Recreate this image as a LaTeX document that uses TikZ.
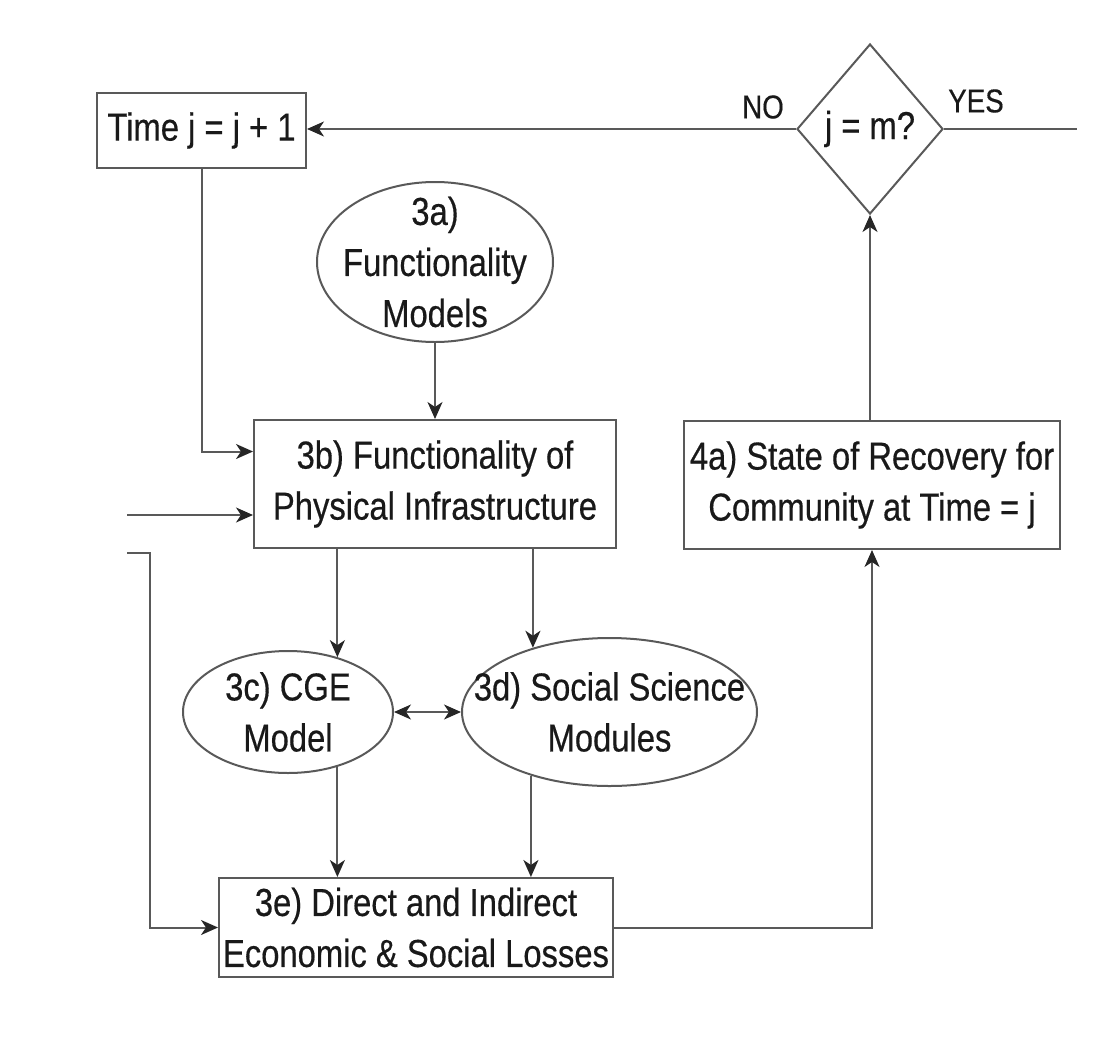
\documentclass[tikz,border=0pt]{standalone}
\usepackage{fontspec}
\setmainfont[FakeStretch=0.84,FakeBold=0.4]{Liberation Sans}
\usetikzlibrary{shapes.geometric,arrows.meta,calc}
\tikzset{
  mainfont/.style={font=\fontsize{39}{51}\selectfont, text=black!90},
  lblfont/.style={font=\fontsize{33}{40}\selectfont, text=black!90},
  boxnode/.style={draw=black!65, line width=2pt, rectangle, inner sep=0pt, align=center, mainfont},
  ellnode/.style={draw=black!65, line width=2pt, ellipse, inner sep=-40pt, align=center, mainfont},
  decnode/.style={draw=black!65, line width=2pt, diamond, inner sep=0pt, align=center, mainfont},
  conn/.style={draw=black!65, line width=2pt},
  arr/.style={conn, -{Stealth[length=17pt,width=15pt,inset=5pt,color=black!85]}},
  darr/.style={conn, {Stealth[length=17pt,width=15pt,inset=5pt,color=black!85]}-{Stealth[length=17pt,width=15pt,inset=5pt,color=black!85]}}
}
\begin{document}
\begin{tikzpicture}[x=1pt,y=-1pt]
\useasboundingbox (0,0) rectangle (1104,1050);
\node[boxnode, minimum width=209pt, minimum height=75pt] (t) at (201.5,130.5) {Time j = j + 1};
\node[decnode, minimum width=146pt, minimum height=170pt] (dia) at (870,129) {j = m?};
\node[ellnode, minimum width=236pt, minimum height=160pt] (a3) at (435,262) {3a)\\Functionality\\Models};
\node[boxnode, minimum width=362pt, minimum height=128pt] (b3) at (435,484) {3b) Functionality of\\Physical Infrastructure};
\node[boxnode, minimum width=376pt, minimum height=128pt] (a4) at (872,485) {4a) State of Recovery for\\Community at Time = j};
\node[ellnode, minimum width=210pt, minimum height=122pt] (c3) at (288,712) {3c) CGE\\Model};
\node[ellnode, minimum width=295pt, minimum height=148pt] (d3) at (609.5,712) {3d) Social Science\\Modules};
\node[boxnode, minimum width=394pt, minimum height=99pt] (e3) at (416,927.5) {3e) Direct and Indirect\\Economic \& Social Losses};
\node[lblfont] (no) at (763,107) {NO};
\node[lblfont] (yes) at (976,101) {YES};
\coordinate (yesend) at (1077,129);
\coordinate (in2) at (127,515);
\coordinate (in3) at (127,553);
% connectors
\draw[arr] (dia.west) -- (dia.west -| t.east);
\draw[conn] (dia.east) -- (yesend);
\draw[arr] (t.south) |- ($(b3.north west)!0.25!(b3.south west)$);
\draw[arr] (in2) -- (in2 -| b3.west);
\draw[arr] (in3) -- ++(23,0) |- (e3.west);
\draw[arr] (a3.south) -- (a3.south |- b3.north);
\draw[arr] (b3.south -| c3.48) -- (c3.48);
\draw[arr] (b3.south -| d3.140) -- (d3.140);
\draw[darr] (c3.east) -- (d3.west);
\draw[arr] (c3.312) -- (c3.312 |- e3.north);
\draw[arr] (d3.219) -- (d3.219 |- e3.north);
\draw[arr] (e3.east) -| (a4.south);
\draw[arr] (dia.south |- a4.north) -- (dia.south);
\end{tikzpicture}
\end{document}
